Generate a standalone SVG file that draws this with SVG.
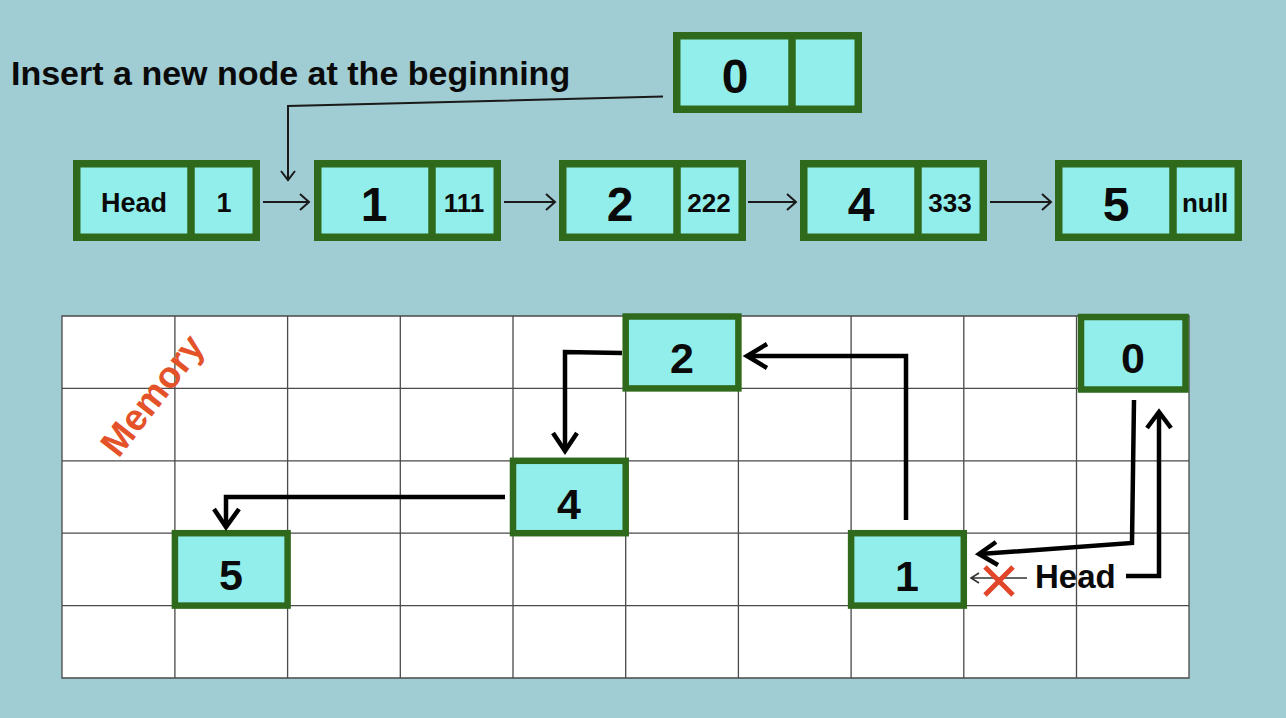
<svg xmlns="http://www.w3.org/2000/svg" width="1286" height="718" viewBox="0 0 1286 718">
<style>
.box{fill:#92EEEA;stroke:#2F6A1C;stroke-width:7.5}
.mbox{fill:#92EEEA;stroke:#2F6A1C;stroke-width:6.5}
.div{stroke:#2F6A1C;stroke-width:7.5}
.t{font-family:"Liberation Sans",Arial,sans-serif;font-weight:bold;fill:#0a0a0a;text-anchor:middle}
.big{font-size:48px}
.sm{font-size:26px}
.mem{font-size:43px}
.grid{stroke:#4a4a4a;stroke-width:1.3;fill:none}
.thin{stroke:#1a1a1a;stroke-width:2;fill:none}
.thick{stroke:#000;stroke-width:4.5;fill:none;stroke-linejoin:miter}
</style>
<rect width="1286" height="718" fill="#A0CCD3"/>
<text class="t" x="11" y="85" style="font-size:34px;text-anchor:start">Insert a new node at the beginning</text>

<g id="grid">
<rect x="62" y="316" width="1127" height="362" fill="#fff"/>
<path class="grid" d="M62,316H1189V678H62Z M174.9,316V678 M287.6,316V678 M400.3,316V678 M513,316V678 M625.7,316V678 M738.4,316V678 M851.1,316V678 M963.8,316V678 M1076.5,316V678 M62,388.4H1189 M62,460.8H1189 M62,533.2H1189 M62,605.6H1189"/>
</g>
<text x="0" y="13" class="t" style="font-size:37px;fill:#E4522A" transform="translate(152,395) rotate(-52)">Memory</text>

<g id="node-new0">
<rect class="box" x="676.75" y="35.75" width="181.5" height="73.5"/>
<line class="div" x1="792" y1="32" x2="792" y2="113"/>
<text class="t big" x="735" y="93">0</text>
</g>
<g id="node-head">
<rect class="box" x="76.75" y="163.75" width="179.5" height="73.5"/>
<line class="div" x1="191" y1="160" x2="191" y2="241"/>
<text class="t" style="font-size:27px" x="134" y="212">Head</text>
<text class="t" style="font-size:27px" x="224" y="212">1</text>
</g>
<g id="node-1">
<rect class="box" x="317.75" y="163.75" width="179.5" height="73.5"/>
<line class="div" x1="432" y1="160" x2="432" y2="241"/>
<text class="t big" x="374" y="221">1</text>
<text class="t sm" x="464" y="212">111</text>
</g>
<g id="node-2">
<rect class="box" x="562.75" y="163.75" width="179.5" height="73.5"/>
<line class="div" x1="677" y1="160" x2="677" y2="241"/>
<text class="t big" x="620" y="221">2</text>
<text class="t sm" x="709" y="212">222</text>
</g>
<g id="node-4">
<rect class="box" x="803.75" y="163.75" width="179.5" height="73.5"/>
<line class="div" x1="918" y1="160" x2="918" y2="241"/>
<text class="t big" x="861" y="221">4</text>
<text class="t sm" x="950" y="212">333</text>
</g>
<g id="node-5">
<rect class="box" x="1058.75" y="163.75" width="179.5" height="73.5"/>
<line class="div" x1="1173" y1="160" x2="1173" y2="241"/>
<text class="t big" x="1116" y="221">5</text>
<text class="t sm" x="1205" y="212">null</text>
</g>

<g id="mem-2">
<rect class="mbox" x="625.7" y="316.5" width="112.7" height="71.9"/>
<text class="t mem" x="682" y="373">2</text>
</g>
<g id="mem-0">
<rect class="mbox" x="1081" y="317" width="104.5" height="72.5"/>
<text class="t mem" x="1133" y="373">0</text>
</g>
<g id="mem-4">
<rect class="mbox" x="513" y="460.8" width="112.7" height="72.4"/>
<text class="t mem" x="569" y="519">4</text>
</g>
<g id="mem-5">
<rect class="mbox" x="174.9" y="533.2" width="112.7" height="72.4"/>
<text class="t mem" x="231" y="590">5</text>
</g>
<g id="mem-1">
<rect class="mbox" x="851.1" y="533.2" width="112.7" height="72.4"/>
<text class="t mem" x="907" y="591">1</text>
</g>
<text class="t" style="font-size:33px;text-anchor:start" x="1035" y="588">Head</text>

<g id="connectors">
<path class="thin" d="M663,96.5 L288,106 V180 M281,171 L288,180 L295,171"/>
<path class="thin" d="M263,202 H309 M300,194 L309,202 L300,210"/>
<path class="thin" d="M504,202 H555 M546,194 L555,202 L546,210"/>
<path class="thin" d="M748,202 H796 M787,194 L796,202 L787,210"/>
<path class="thin" d="M990,202 H1051 M1042,194 L1051,202 L1042,210"/>

<path class="thick" d="M906,520 V356 H748"/>
<path class="thick" d="M767,344 L747,356 L767,368"/>
<path class="thick" d="M622,353 L565,352 V450"/>
<path class="thick" d="M553,433 L565,451 L577,433"/>
<path class="thick" d="M505,497 H226 V526"/>
<path class="thick" d="M214,509 L226,527 L239,509"/>
<path class="thick" d="M1134,400 L1132,543 L980,554"/>
<path class="thick" d="M996,542 L979,554 L998,565"/>
<path class="thick" d="M1126,576 H1159 V413"/>
<path class="thick" d="M1147,428 L1159,412 L1171,428"/>
<path d="M1027,578 H972 M979,573 L971,578 L979,583" stroke="#333" stroke-width="1.6" fill="none"/>
<path d="M985,567 L1013,595 M1013,567 L985,595" stroke="#E2462A" stroke-width="5" fill="none"/>
</g>
</svg>
